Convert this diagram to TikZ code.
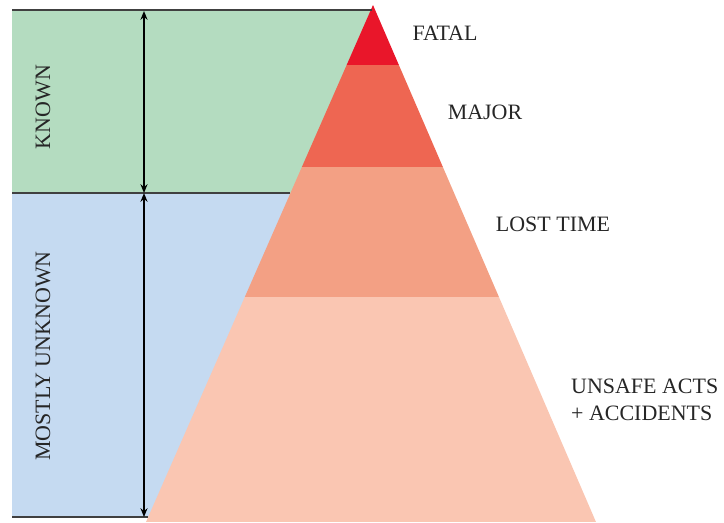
\documentclass[tikz,border=0pt]{standalone}
\usepackage{fontspec}
\setmainfont{Liberation Serif}
\usetikzlibrary{arrows.meta}
\definecolor{knowngreen}{RGB}{180,220,192}
\definecolor{unknownblue}{RGB}{197,218,241}
\definecolor{fatalred}{RGB}{233,22,42}
\definecolor{majorred}{RGB}{238,102,82}
\definecolor{losttime}{RGB}{243,160,132}
\definecolor{unsafe}{RGB}{250,198,178}
\begin{document}
\begin{tikzpicture}[x=0.02cm,y=-0.02cm,
  lbl/.style={font=\fontsize{12.5}{15}\selectfont, text=black!85},
  rule/.style={line width=1.1pt, draw=black!75},
  span/.style={{Stealth[length=5pt,width=4pt]}-{Stealth[length=5pt,width=4pt]}, line width=0.9pt}]
\useasboundingbox (0,0) rectangle (724,522);
\fill[knowngreen] (12,10) rectangle (373,193);
\fill[unknownblue] (12,193) rectangle (300,517);
% pyramid bands
\begin{scope}
\clip (373,5) -- (146,522) -- (596,522) -- cycle;
\fill[fatalred] (140,0) rectangle (600,65);
\fill[majorred] (140,65) rectangle (600,167);
\fill[losttime] (140,167) rectangle (600,297);
\fill[unsafe] (140,297) rectangle (600,522);
\end{scope}
\draw[rule] (12,10) -- (372,10);
\draw[rule] (12,193) -- (290,193);
\draw[rule] (12,517) -- (148,517);
\coordinate (ktop) at (144,11);
\coordinate (kmid) at (144,193);
\coordinate (kbot) at (144,517);
\draw[span] (ktop) -- (kmid);
\draw[span] (kmid) -- (kbot);
\node[lbl,rotate=90] (known) at (43,107) {KNOWN};
\node[lbl,rotate=90] (unknown) at (43,356) {MOSTLY UNKNOWN};
\node[lbl] (fatal) at (445,33) {FATAL};
\node[lbl] (major) at (485,112) {MAJOR};
\node[lbl] (lost) at (553,224) {LOST TIME};
\node[lbl,anchor=west,align=left] (acts) at (565,400) {UNSAFE ACTS\\+ ACCIDENTS};
\end{tikzpicture}
\end{document}
